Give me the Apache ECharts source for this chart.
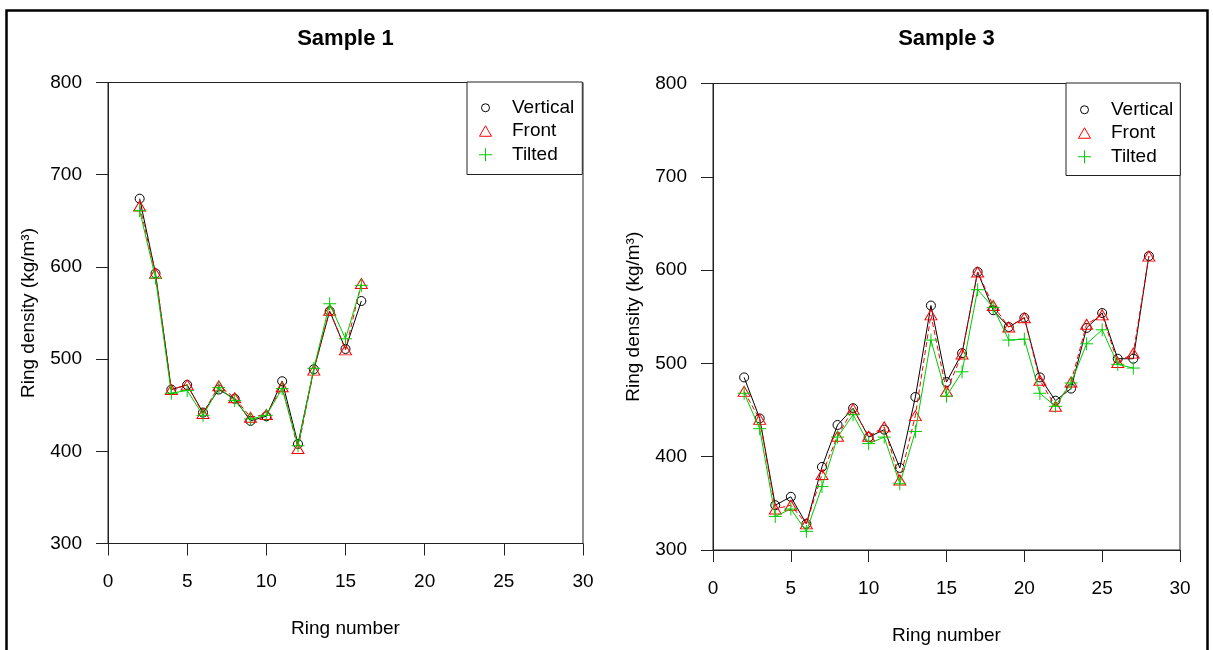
<!DOCTYPE html>
<html>
<head>
<meta charset="utf-8">
<script src="https://cdn.jsdelivr.net/npm/echarts@6/dist/echarts.min.js"></script>
<style>
html,body{margin:0;padding:0;background:#fff;}
#chart{width:1213px;height:650px;}
</style>
</head>
<body>
<div id="chart"></div>
<script>
// ---- Data ----
const titles = ['Sample 1', 'Sample 3'];
const seriesNames = ['Vertical', 'Front', 'Tilted'];
const xTicks = [0, 5, 10, 15, 20, 25, 30];
const yTicks = [300, 400, 500, 600, 700, 800];

const s1Rings   = [2, 3, 4, 5, 6, 7, 8, 9, 10, 11, 12, 13, 14, 15, 16];
const s1Vertical = [674, 593, 467, 472, 442, 467, 457, 433, 438, 476, 408, 489, 552, 511, 563];
const s1Front    = [666, 593, 467, 472, 441, 471, 458, 437, 440, 470, 403, 488, 553, 510, 582];
const s1Tilted   = [661, 588, 463, 466, 439, 469, 455, 435, 439, 468, 406, 490, 560, 522, 580];

const s3Rings   = [2, 3, 4, 5, 6, 7, 8, 9, 10, 11, 12, 13, 14, 15, 16, 17, 18, 19, 20, 21, 22, 23, 24, 25, 26, 27, 28];
const s3Vertical = [485, 441, 348, 357, 328, 389, 434, 452, 421, 429, 388, 464, 562, 480, 511, 598, 557, 539, 549, 485, 460, 473, 538, 554, 505, 505, 615];
const s3Front    = [470, 440, 344, 348, 328, 381, 422, 451, 422, 432, 375, 444, 552, 470, 510, 598, 562, 539, 549, 482, 454, 480, 542, 552, 501, 511, 615];
const s3Tilted   = [468, 430, 336, 344, 320, 368, 421, 445, 414, 421, 371, 427, 525, 465, 491, 579, 560, 525, 526, 468, 454, 479, 521, 536, 499, 495, null];

// ---- Styles ----
const FONT = "'Liberation Sans', Arial, sans-serif";
const colors = ['#000000', '#FF0000', '#00CC00'];
const CIRCLE_PATH = 'path://M0,0M13,13M10.5,6.5A4,4,0,1,1,2.5,6.5A4,4,0,1,1,10.5,6.5Z';
const TRI_PATH = 'path://M0,0M13,13M6.5,1L12.5,11.5L0.5,11.5Z';
const CROSS_PATH = 'path://M6.5,0L6.5,13M0,6.5L13,6.5';
const seriesSymbols = ['circle', 'triangle', 'path://M5,0L5,10M0,5L10,5'];
const seriesSymbolSizes = [9, [12, 10], 13];
const legendIcons = [CIRCLE_PATH, TRI_PATH, CROSS_PATH];
const lineTypes = ['solid', [5, 3], 'solid'];

const grids = [
  {left: 108, top: 82.5, width: 475, height: 461},
  {left: 713, top: 83.5, width: 467, height: 466.5}
];

function pairs(xs, ys) { return xs.map((x, i) => [x, ys[i]]); }

const panelData = [
  {rings: s1Rings, values: [s1Vertical, s1Front, s1Tilted]},
  {rings: s3Rings, values: [s3Vertical, s3Front, s3Tilted]}
];

const option = {
  animation: false,
  backgroundColor: '#fff',
  textStyle: {fontFamily: FONT},
  title: titles.map((t, i) => ({
    text: t,
    left: grids[i].left + grids[i].width / 2,
    textAlign: 'center',
    top: 28,
    padding: 0,
    textStyle: {fontSize: 22, fontWeight: 'bold', color: '#000', fontFamily: FONT}
  })),
  grid: grids.map(g => Object.assign({show: true, borderColor: '#222', borderWidth: 1, backgroundColor: 'transparent'}, g)),
  legend: [
    {left: 467, top: 82, padding: [14, 8, 8, 11.5]},
    {left: 1066, top: 83, padding: [15, 7, 7, 11.5]}
  ].map(l => Object.assign({
    orient: 'vertical',
    borderColor: '#222',
    borderWidth: 1,
    backgroundColor: '#fff',
    itemWidth: 13,
    itemHeight: 13,
    itemGap: 0,
    selectedMode: false,
    textStyle: {fontSize: 19, color: '#000', fontFamily: FONT, lineHeight: 23.5, padding: [0, 0, 0, 15]},
    data: seriesNames.map((n, k) => ({
      name: n,
      icon: legendIcons[k],
      itemStyle: {color: 'transparent', borderColor: colors[k], borderWidth: 1}
    }))
  }, l)),
  xAxis: grids.map((g, i) => ({
    type: 'value',
    gridIndex: i,
    min: 0, max: 30, interval: 5,
    name: 'Ring number',
    nameLocation: 'middle',
    nameGap: 76,
    nameTextStyle: {fontSize: 19, color: '#000', fontFamily: FONT},
    axisLine: {show: true, onZero: false, lineStyle: {color: '#222', width: 1}},
    axisTick: {show: true, inside: false, length: 12, lineStyle: {color: '#222'}},
    axisLabel: {fontSize: 19, color: '#000', margin: 29, fontFamily: FONT},
    splitLine: {show: false}
  })),
  yAxis: grids.map((g, i) => ({
    type: 'value',
    gridIndex: i,
    min: 300, max: 800, interval: 100,
    name: 'Ring density (kg/m³)',
    nameLocation: 'middle',
    nameGap: 70,
    nameTextStyle: {fontSize: 19, color: '#000', fontFamily: FONT},
    axisLine: {show: true, onZero: false, lineStyle: {color: '#222', width: 1}},
    axisTick: {show: true, inside: false, length: 12, lineStyle: {color: '#222'}},
    axisLabel: {fontSize: 19, color: '#000', margin: 26, fontFamily: FONT},
    splitLine: {show: false}
  })),
  series: [],
  graphic: [{
    type: 'rect',
    shape: {x: 6.5, y: 10.5, width: 1201, height: 700},
    style: {fill: 'none', stroke: '#000', lineWidth: 2.5},
    silent: true,
    z: 100
  }]
};

panelData.forEach((p, i) => {
  seriesNames.forEach((n, k) => {
    option.series.push({
      name: n,
      type: 'line',
      xAxisIndex: i,
      yAxisIndex: i,
      data: pairs(p.rings, p.values[k]),
      symbol: seriesSymbols[k],
      symbolSize: seriesSymbolSizes[k],
      showAllSymbol: true,
      connectNulls: false,
      lineStyle: {color: colors[k], width: 1, type: lineTypes[k]},
      itemStyle: {color: 'transparent', borderColor: colors[k], borderWidth: 1},
      emphasis: {disabled: true},
      z: 2 + k
    });
  });
});

const chart = echarts.init(document.getElementById('chart'), null, {renderer: 'canvas'});
chart.setOption(option);
</script>
</body>
</html>
